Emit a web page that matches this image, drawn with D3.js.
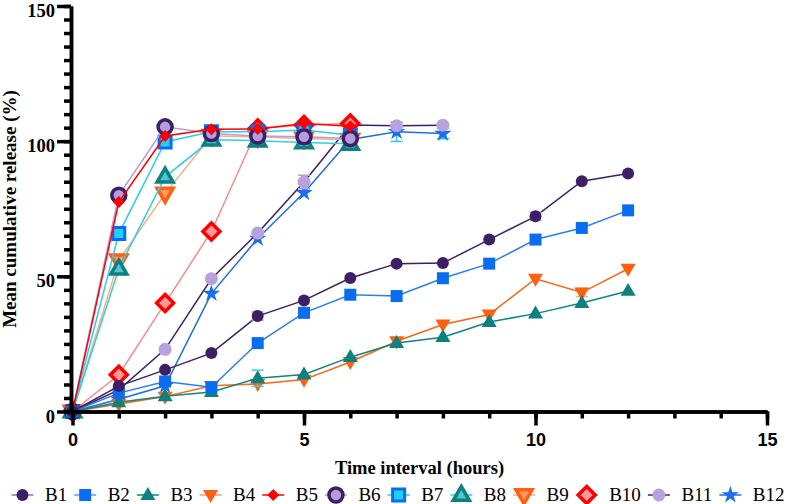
<!DOCTYPE html>
<html>
<head>
<meta charset="utf-8">
<script src="https://cdn.jsdelivr.net/npm/d3@7"></script>
<style>
html,body{margin:0;padding:0;background:#fff;}
svg{display:block;}
</style>
</head>
<body>
<svg id="chart" width="789" height="504"></svg>
<script>
// ---------- DATA ----------
const seriesNames = ["B1","B2","B3","B4","B5","B6","B7","B8","B9","B10","B11","B12"];
const timeLong  = [0,1,2,3,4,5,6,7,8,9,10,11,12];
const timeShort = [0,1,2,3,4,5,6];
const timeMid   = [0,1,2,3,4,5,6,7,8];

const B1  = [0, 9.4, 15.4, 21.6, 35.3, 41.1, 49.4, 54.7, 54.9, 63.6, 72.2, 85.2, 88.0];
const B2  = [0, 6.8, 11.1, 9.0, 25.3, 36.5, 43.2, 42.7, 49.3, 54.7, 63.6, 67.9, 74.4];
const B3  = [0, 3.4, 5.6, 7.2, 12.3, 13.7, 20.1, 25.3, 27.5, 33.1, 36.2, 40.1, 44.6];
const B4  = [0, 2.8, 5.5, 9.5, 10.2, 11.8, 18.3, 26.0, 32.2, 35.9, 49.1, 44.0, 52.8];
const B5  = [0, 77.5, 101.9, 104.4, 104.5, 106.5, 105.5];
const B6  = [0, 80.0, 105.3, 102.8, 101.9, 101.6, 101.0];
const B7  = [0, 65.8, 99.7, 103.5, 103.5, 104.1, 102.2];
const B8  = [0, 52.8, 86.8, 100.5, 100.2, 99.5, 99.0];
const B9  = [0, 55.9, 80.6, 102.0, 101.5, 101.0, 100.5];
const B10 = [0, 13.6, 40.1, 66.6, 104.7, 106.0, 106.5];
const B11 = [0, 8.0, 23.0, 49.1, 66.0, 84.9, 106.0, 105.7, 105.9];
const B12 = [0, 4.5, 9.5, 43.6, 64.0, 80.9, 100.6, 103.5, 102.8];

// standard deviations (only visible ones)
const B1err  = [0,0,0,0,1.5,0,0,0,0,0,1.5,0,0];
const B3err  = [0,0,0,0,3.0,0,0,0,0,0,0,0,0];
const B4err  = [0,0,0,0,0,0,0,0,0,0,0,1.5,0];
const B11err = [0,0,0,0,0,2.5,0,0,0];
const B12err = [0,0,0,0,0,0,0,3.6,1.9];

const xTicks = [0,5,10,15];
const yTicks = [0,50,100,150];

// ---------- STYLE ----------
const styles = {
  B1:  {times: timeLong,  values: B1,  err: B1err,  line:"#3d1f66", legendLine:"#8c74c4", shape:"circle",  r:6,  fill:"#3d1f66", stroke:"none", sw:0, errColor:"#b39ddb"},
  B2:  {times: timeLong,  values: B2,  line:"#2a7ef0", legendLine:"#5c9cf2", shape:"square", r:6, fill:"#0a6cf0", stroke:"none", sw:0},
  B3:  {times: timeLong,  values: B3,  err: B3err,  line:"#0e8585", legendLine:"#0e8585", shape:"triUp", r:7.5, fill:"#0e8080", stroke:"none", sw:0, errColor:"#40d0e0"},
  B4:  {times: timeLong,  values: B4,  err: B4err,  line:"#ff6414", legendLine:"#ff9a70", shape:"triDown", r:7.5, fill:"#ff6010", stroke:"none", sw:0, errColor:"#ffab85"},
  B5:  {times: timeShort, values: B5,  line:"#ff0000", legendLine:"#ff0000", shape:"diamond", r:6, fill:"#ff0000", stroke:"none", sw:0},
  B6:  {times: timeShort, values: B6,  line:"#b39ddb", legendLine:"#b39ddb", shape:"circle", r:7, fill:"#b39ddb", stroke:"#3d1f66", sw:3.5},
  B7:  {times: timeShort, values: B7,  line:"#2ccdf0", legendLine:"#2ccdf0", shape:"square", r:6, fill:"#22d0f5", stroke:"#0a6cf0", sw:3},
  B8:  {times: timeShort, values: B8,  line:"#30d0e0", legendLine:"#30d0e0", shape:"triUp", r:8, fill:"#4cc6d6", stroke:"#0e8080", sw:3.5},
  B9:  {times: timeShort, values: B9,  line:"#ffab85", legendLine:"#ffab85", shape:"triDown", r:8, fill:"#ff9a66", stroke:"#ff6010", sw:3.5},
  B10: {times: timeShort, values: B10, line:"#ff8a8a", legendLine:"#ff8a8a", shape:"diamond", r:8.5, fill:"#ff9a9a", stroke:"#ff0000", sw:3.5},
  B11: {times: timeMid,   values: B11, err: B11err, line:"#3d1f66", legendLine:"#3d1f66", shape:"circle", r:6.5, fill:"#b7a2dd", stroke:"none", sw:0, errColor:"#b39ddb"},
  B12: {times: timeMid,   values: B12, err: B12err, line:"#1e6ee8", legendLine:"#1e6ee8", shape:"star", r:6, fill:"#1a6ef0", stroke:"none", sw:0, errColor:"#30c8f0"}
};

// ---------- SCALES ----------
const x = d3.scaleLinear().domain([0,15]).range([72.5,767]);
const y = d3.scaleLinear().domain([0,150]).range([411.5,6]);

const svg = d3.select("#chart");

function shapePath(shape, r){
  switch(shape){
    case "circle": return d3.symbol(d3.symbolCircle, Math.PI*r*r)();
    case "square": return `M${-r},${-r}H${r}V${r}H${-r}Z`;
    case "triUp": { const h=r*1.732; return `M0,${-h*0.62}L${r},${h*0.38}L${-r},${h*0.38}Z`; }
    case "triDown": { const h=r*1.732; return `M0,${h*0.62}L${r},${-h*0.38}L${-r},${-h*0.38}Z`; }
    case "diamond": return `M0,${-r}L${r},0L0,${r}L${-r},0Z`;
    case "star": return d3.symbol(d3.symbolStar, r*r*2.6)();
  }
}

// ---------- SERIES (reverse order: B1 on top) ----------
const plot = svg.append("g");
const lineGen = d3.line().x(d=>x(d.t)).y(d=>y(d.v));
[...seriesNames].reverse().forEach(name=>{
  const s = styles[name];
  const pts = s.times.map((t,i)=>({t, v:s.values[i], e: s.err ? s.err[i] : 0}));
  const g = plot.append("g");
  g.append("path").datum(pts).attr("d", lineGen)
    .attr("fill","none").attr("stroke", s.line).attr("stroke-width",1.5);
  pts.filter(d=>d.e>0).forEach(d=>{
    const eg = g.append("g").attr("stroke", s.errColor).attr("stroke-width",1.5);
    eg.append("line").attr("x1",x(d.t)).attr("x2",x(d.t)).attr("y1",y(d.v-d.e)).attr("y2",y(d.v+d.e));
    eg.append("line").attr("x1",x(d.t)-6).attr("x2",x(d.t)+6).attr("y1",y(d.v+d.e)).attr("y2",y(d.v+d.e));
    eg.append("line").attr("x1",x(d.t)-6).attr("x2",x(d.t)+6).attr("y1",y(d.v-d.e)).attr("y2",y(d.v-d.e));
  });
  g.selectAll("path.m").data(pts).join("path").attr("class","m")
    .attr("transform", d=>`translate(${x(d.t)},${y(d.v)})`)
    .attr("d", shapePath(s.shape, s.r))
    .attr("fill", s.fill).attr("stroke", s.stroke).attr("stroke-width", s.sw)
    .attr("stroke-linejoin","miter");
});

// ---------- AXES ----------
const xAxisG = svg.append("g").attr("transform",`translate(0,${y(0)})`);
xAxisG.call(d3.axisBottom(x).tickValues(d3.range(0,16,1)).tickSize(7).tickSizeOuter(0).tickFormat(""));
xAxisG.append("g").call(d3.axisBottom(x).tickValues(xTicks).tickSize(14).tickSizeOuter(0).tickPadding(8).tickFormat(d3.format("d")));
xAxisG.selectAll("path.domain").attr("stroke","#000").attr("stroke-width",3.5);
xAxisG.selectAll(".tick line").attr("stroke","#000").attr("stroke-width",3.5);
xAxisG.selectAll(".tick text").attr("fill","#000")
  .style("font-family","'Liberation Sans', Arial, sans-serif").style("font-weight","bold").style("font-size","18px");

const yAxisG = svg.append("g").attr("transform",`translate(${x(0)-1.5},0)`);
yAxisG.call(d3.axisLeft(y).tickValues(d3.range(0,151,5)).tickSize(7).tickSizeOuter(0).tickFormat(""));
yAxisG.append("g").call(d3.axisLeft(y).tickValues(yTicks).tickSize(14).tickSizeOuter(0).tickPadding(2).tickFormat(d3.format("d")));
yAxisG.selectAll("path.domain").attr("stroke","#000").attr("stroke-width",3.5);
yAxisG.selectAll(".tick line").attr("stroke","#000").attr("stroke-width",3.5);
yAxisG.selectAll(".tick text").attr("fill","#000").attr("dy","10.6px")
  .style("font-family","'Liberation Serif', 'Times New Roman', serif").style("font-weight","bold").style("font-size","18.5px");
svg.append("line").attr("x1",x(0)-3.2).attr("x2",x(0)).attr("y1",y(0)).attr("y2",y(0))
  .attr("stroke","#000").attr("stroke-width",3.5);

// ---------- TITLES ----------
svg.append("text").attr("x",419.5).attr("y",473.5).attr("text-anchor","middle")
  .style("font-family","'Liberation Serif', 'Times New Roman', serif").style("font-weight","bold").style("font-size","18.5px")
  .text("Time interval (hours)");
svg.append("text").attr("transform","translate(16,209) rotate(-90)").attr("text-anchor","middle")
  .style("font-family","'Liberation Serif', 'Times New Roman', serif").style("font-weight","bold").style("font-size","19px")
  .text("Mean cumulative release (%)");

// ---------- LEGEND ----------
const leg = svg.append("g");
let cx = 22.5;
const ly = 495;
seriesNames.forEach(name=>{
  const s = styles[name];
  leg.append("line").attr("x1",cx-11).attr("x2",cx+11).attr("y1",ly).attr("y2",ly)
    .attr("stroke", s.legendLine).attr("stroke-width",1.5);
  leg.append("path").attr("transform",`translate(${cx},${ly})`)
    .attr("d", shapePath(s.shape, s.r)).attr("fill", s.fill).attr("stroke", s.stroke).attr("stroke-width", s.sw);
  const t = leg.append("text").attr("x",cx+22.5).attr("y",500.5)
    .style("font-family","'Liberation Serif', 'Times New Roman', serif").style("font-size","19px").attr("fill","#000")
    .text(name);
  const w = t.node().getComputedTextLength();
  cx = cx + 22.5 + w + 18;
});
</script>
</body>
</html>
